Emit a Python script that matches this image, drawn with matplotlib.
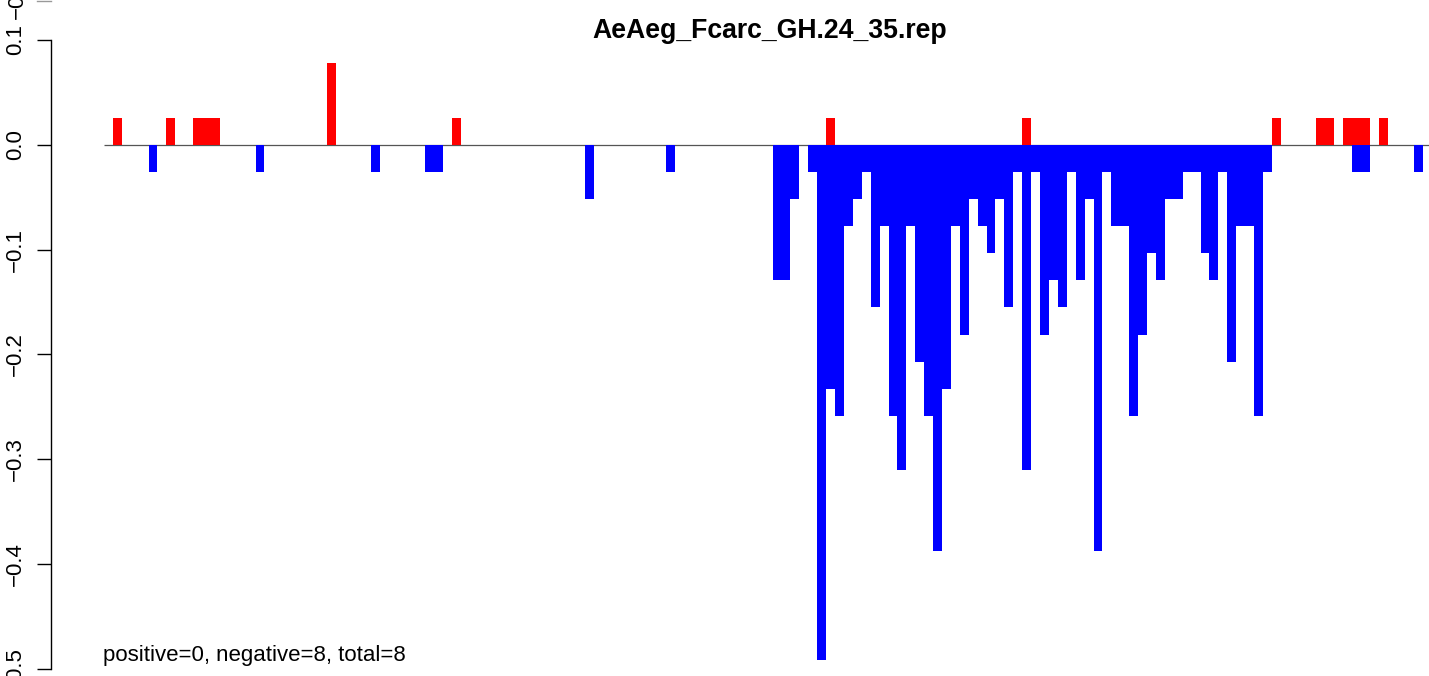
import matplotlib
matplotlib.use('Agg')
import matplotlib.pyplot as plt
from matplotlib.lines import Line2D

plt.rcParams['font.family'] = ['Liberation Sans', 'DejaVu Sans']

title = 'AeAeg_Fcarc_GH.24_35.rep'
summary = 'positive=0, negative=8, total=8'

# window index of each bar and its value
pos_bins = [1, 7, 10, 11, 12, 25, 39, 81, 103, 131, 136, 137, 139, 140, 141, 143]
pos_vals = [0.0259, 0.0259, 0.0259, 0.0259, 0.0259, 0.0776, 0.0259, 0.0259,
            0.0259, 0.0259, 0.0259, 0.0259, 0.0259, 0.0259, 0.0259, 0.0259]

neg_bins = [5, 17, 30, 36, 37, 54, 63,
            75, 76, 77, 79, 80, 81, 82, 83, 84, 85, 86, 87, 88, 89,
            90, 91, 92, 93, 94, 95, 96, 97, 98, 99,
            100, 101, 102, 103, 104, 105, 106, 107, 108, 109,
            110, 111, 112, 113, 114, 115, 116, 117, 118, 119,
            120, 121, 122, 123, 124, 125, 126, 127, 128, 129,
            130, 140, 141, 147]
neg_vals = [-0.0259, -0.0259, -0.0259, -0.0259, -0.0259, -0.0517, -0.0259,
            -0.1293, -0.1293, -0.0517, -0.0259, -0.4913, -0.2327, -0.2586, -0.0776, -0.0517, -0.0259, -0.1552, -0.0776, -0.2586, -0.3103,
            -0.0776, -0.2069, -0.2586, -0.3879, -0.2327, -0.0776, -0.1810, -0.0517, -0.0776, -0.1034,
            -0.0517, -0.1552, -0.0259, -0.3103, -0.0259, -0.1810, -0.1293, -0.1552, -0.0259, -0.1293,
            -0.0517, -0.3879, -0.0259, -0.0776, -0.0776, -0.2586, -0.1810, -0.1034, -0.1293, -0.0517,
            -0.0517, -0.0259, -0.0259, -0.1034, -0.1293, -0.0259, -0.2069, -0.0776, -0.0776, -0.2586,
            -0.0259, -0.0259, -0.0259, -0.0259]

yticks = [0.1, 0.0, -0.1, -0.2, -0.3, -0.4, -0.5]

W, H = 1429, 676
fig = plt.figure(figsize=(W / 100, H / 100), dpi=100)
ax = fig.add_axes([50.7 / W, 0, 1 - 50.7 / W, 1])

ax.hlines(0, 0, 160, color='#555555', lw=0.9, zorder=1)
ax.bar(pos_bins, pos_vals, width=1, align='edge', color='#ff0000', linewidth=0, zorder=2)
ax.bar(neg_bins, neg_vals, width=1, align='edge', color='#0000ff', linewidth=0, zorder=2)

ax.set_xlim(-5.98, 148.63)
ax.set_ylim(-0.5067, 0.1381)

for s in ['top', 'right', 'bottom']:
    ax.spines[s].set_visible(False)
ax.spines['left'].set_bounds(-0.5, 0.1)
ax.spines['left'].set_linewidth(1.0)
ax.set_xticks([])
ax.set_yticks(yticks)
ax.set_yticklabels(['0.1', '0.0', '\u22120.1', '\u22120.2', '\u22120.3', '\u22120.4', '\u22120.5'])
ax.tick_params(axis='y', length=10, width=1.0, pad=8, labelsize=16, labelrotation=90)
for lab in ax.get_yticklabels():
    lab.set_va('center')

fig.text(769.5 / W, 1 - 38 / H, title, ha='center', va='baseline',
         fontsize=19.2, fontweight='bold')
fig.text(103 / W, 1 - 661 / H, summary, ha='left', va='baseline', fontsize=16)

# edge of the panel above, cut off by the picture
fig.text(17 / W, 1 + 3 / H, '\u22120.5', rotation=90, ha='center', va='center', fontsize=16)
fig.add_artist(Line2D([37 / W, 51 / W], [1 - 0.5 / H, 1 - 0.5 / H], color='#999999', lw=1.0))

fig.savefig('out.png', dpi=100)
